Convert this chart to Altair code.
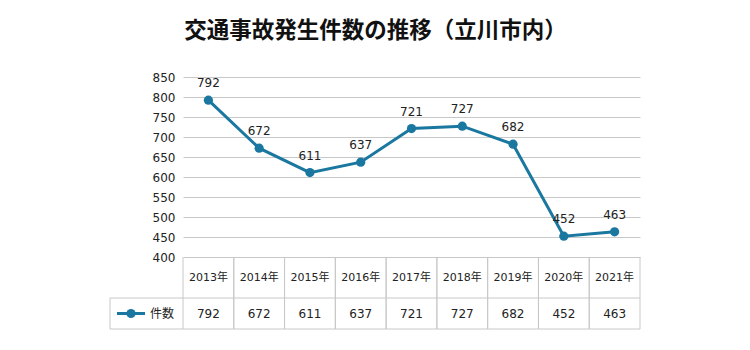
import altair as alt
import pandas as pd

# ---- data ----
years = ["2013年", "2014年", "2015年", "2016年", "2017年", "2018年", "2019年", "2020年", "2021年"]
counts = [792, 672, 611, 637, 721, 727, 682, 452, 463]
y_ticks = [400, 450, 500, 550, 600, 650, 700, 750, 800, 850]
series_name = "件数"
title_text = "交通事故発生件数の推移（立川市内）"

df = pd.DataFrame({"year": years, "count": counts})
one = pd.DataFrame({"k": [0]})

LINE = "#1a77a0"
GRID = "#c8c8c8"
TXT = "#222222"
NUM_FONT = "DejaVu Sans, Noto Sans CJK JP"

W, H = 457, 252
ROW1_Y = 200.5   # header row centre (px inside plot area)
ROW2_TOP = 221
ROW2_Y = 236.5

xscale = alt.Scale(type="band", paddingInner=0, paddingOuter=0)
x_enc = alt.X("year:N", sort=years, scale=xscale, axis=None)
x_left = alt.X("year:N", sort=years, scale=xscale, axis=None, bandPosition=0)
x_right = alt.X("year:N", sort=years, scale=xscale, axis=None, bandPosition=1)
y_enc = alt.Y("count:Q",
              scale=alt.Scale(domain=[220, 850], nice=False, zero=False),
              axis=alt.Axis(values=y_ticks, grid=True, gridColor=GRID, domain=False,
                            ticks=False, title=None, labelFontSize=12, labelPadding=8,
                            labelColor=TXT, labelFont=NUM_FONT))

base = alt.Chart(df)

line = base.mark_line(color=LINE, strokeWidth=3).encode(x=x_enc, y=y_enc)
pts = base.mark_point(filled=True, color=LINE, size=85, opacity=1).encode(x=x_enc, y=y_enc)
labels = base.mark_text(fontSize=12, font=NUM_FONT, color=TXT, dy=-17).encode(
    x=x_enc, y=y_enc, text="count:Q")

# data table below the plot
col_left = base.mark_rule(color=GRID).encode(x=x_left, y=alt.value(180), y2=alt.value(H))
col_right = base.mark_rule(color=GRID).encode(x=x_right, y=alt.value(180), y2=alt.value(H))
hdr = base.mark_text(fontSize=11, font=NUM_FONT, color=TXT, baseline="middle").encode(
    x=x_enc, y=alt.value(ROW1_Y), text="year:N")
vals = base.mark_text(fontSize=12, font=NUM_FONT, color=TXT, baseline="middle").encode(
    x=x_enc, y=alt.value(ROW2_Y), text="count:Q")

ob = alt.Chart(one)
h_mid = ob.mark_rule(color=GRID).encode(x=alt.value(-73), x2=alt.value(W), y=alt.value(ROW2_TOP))
h_bot = ob.mark_rule(color=GRID).encode(x=alt.value(-73), x2=alt.value(W), y=alt.value(H))
v_leg = ob.mark_rule(color=GRID).encode(x=alt.value(-73), y=alt.value(ROW2_TOP), y2=alt.value(H))

# legend cell
leg_line = ob.mark_rule(color=LINE, strokeWidth=3).encode(
    x=alt.value(-66), x2=alt.value(-38), y=alt.value(ROW2_Y))
leg_pt = ob.mark_point(filled=True, color=LINE, size=85, opacity=1).encode(
    x=alt.value(-52), y=alt.value(ROW2_Y))
leg_txt = ob.mark_text(fontSize=12, font="Noto Sans CJK JP", color=TXT, align="left",
                       baseline="middle", text=series_name).encode(
    x=alt.value(-33), y=alt.value(ROW2_Y))

chart = alt.layer(
    line, pts, labels, col_left, col_right, hdr, vals,
    h_mid, h_bot, v_leg, leg_line, leg_pt, leg_txt
).properties(
    width=W, height=H,
    title=alt.Title(title_text, fontSize=22.5, font="Noto Sans CJK JP", fontWeight="bold",
                    color="#111111", anchor="middle", frame="group", dx=-36, offset=29),
    autosize=alt.AutoSizeParams(type="none"),
    padding={"left": 183, "top": 77, "right": 110, "bottom": 21},
).configure(background="white", view=alt.ViewConfig(stroke=None))

chart.save("out.html", embed_options={"renderer": "svg", "actions": False})
